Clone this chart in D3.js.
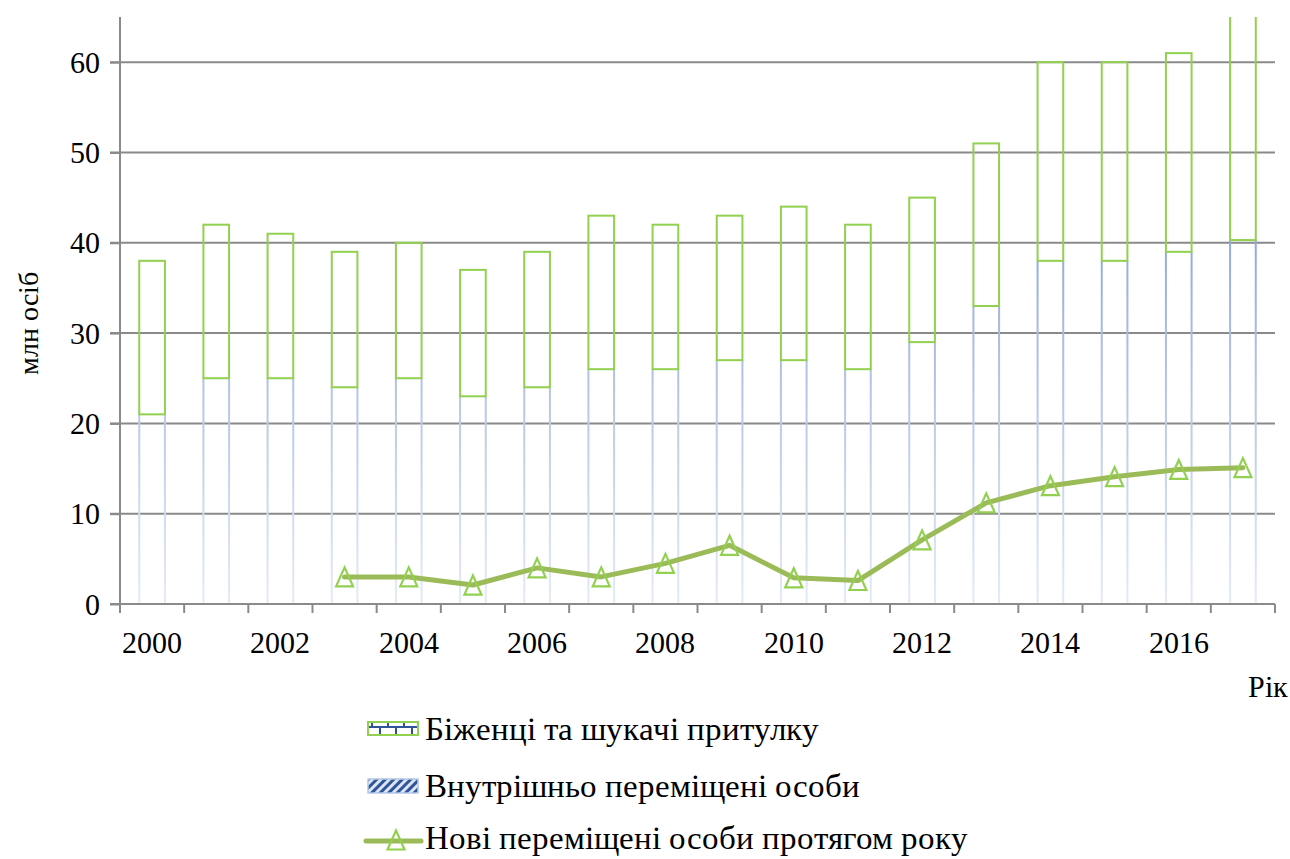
<!DOCTYPE html>
<html><head><meta charset="utf-8">
<script src="https://cdn.jsdelivr.net/npm/d3@7"></script>
<style>
  @font-face { font-family: 'ChartSerif'; src: local('Liberation Serif'), local('LiberationSerif'), local('LiberationSerif-Regular'), local('Times New Roman'); }
</style>
</head>
<body style="margin:0">
<script>
// Дані
const years = d3.range(2000, 2018);
const idp = [21, 25, 25, 24, 25, 23, 24, 26, 26, 27, 27, 26, 29, 33, 38, 38, 39, 40.3];
const total = [38, 42, 41, 39, 40, 37, 39, 43, 42, 43, 44, 42, 45, 51, 60, 60, 61, 68.5];
const newYears = d3.range(2003, 2018);
const newDisplaced = [3, 3, 2.1, 4, 3, 4.5, 6.5, 2.9, 2.6, 7.1, 11.2, 13.1, 14.1, 14.9, 15.1];
const yTicks = [0, 10, 20, 30, 40, 50, 60];
const xLabels = [2000, 2002, 2004, 2006, 2008, 2010, 2012, 2014, 2016];
const legendItems = ['Біженці та шукачі притулку', 'Внутрішньо переміщені особи', 'Нові переміщені особи протягом року'];

const width = 1290, height = 859;
const plotL = 120, plotR = 1275, plotT = 17, plotB = 604;
const fam = "ChartSerif, 'Liberation Serif', 'Times New Roman', serif";

const svg = d3.select('body').append('svg')
  .attr('width', width).attr('height', height)
  .style('font-family', fam);

const defs = svg.append('defs');
defs.append('clipPath').attr('id', 'plot')
  .append('rect').attr('x', plotL).attr('y', plotT).attr('width', plotR - plotL).attr('height', plotB - plotT);

const grad = defs.append('linearGradient').attr('id', 'fade')
  .attr('gradientUnits', 'userSpaceOnUse')
  .attr('x1', 0).attr('x2', 0).attr('y1', 230).attr('y2', plotB);
grad.append('stop').attr('offset', 0).attr('stop-color', '#8eaadb');
grad.append('stop').attr('offset', 1).attr('stop-color', '#e4ebf7');

const x = d3.scaleBand().domain(years).range([plotL, plotR]).padding(0);
const y = d3.scaleLinear().domain([0, 65]).range([plotB, plotT]);
const barW = x.bandwidth() * 0.4;
const bx = d => x(d) + (x.bandwidth() - barW) / 2;

// Сітка
svg.append('g').selectAll('line').data(yTicks.slice(1)).enter().append('line')
  .attr('x1', plotL - 10).attr('x2', plotR)
  .attr('y1', d => y(d)).attr('y2', d => y(d))
  .attr('stroke', '#8a8a8a').attr('stroke-width', 2);

const bars = svg.append('g').attr('clip-path', 'url(#plot)');

// Внутрішньо переміщені — лише бічні лінії
years.forEach((yr, i) => {
  [bx(yr), bx(yr) + barW].forEach(px => {
    bars.append('rect')
      .attr('x', px - 1).attr('width', 2)
      .attr('y', y(idp[i])).attr('height', y(0) - y(idp[i]))
      .attr('fill', 'url(#fade)');
  });
});

// Біженці — зелений контур
bars.selectAll('rect.ref').data(years).enter().append('rect')
  .attr('class', 'ref')
  .attr('x', d => bx(d))
  .attr('width', barW)
  .attr('y', (d, i) => y(total[i]))
  .attr('height', (d, i) => y(idp[i]) - y(total[i]))
  .attr('fill', 'none')
  .attr('stroke', '#92d050')
  .attr('stroke-width', 2);

// Вісь Y
svg.append('g')
  .attr('transform', `translate(${plotL},0)`)
  .call(d3.axisLeft(y).tickValues(yTicks).tickSize(10).tickPadding(10).tickFormat(d3.format('d')))
  .call(g => g.attr('font-family', null).attr('font-size', null))
  .call(g => g.select('.domain').attr('stroke', '#8a8a8a').attr('stroke-width', 2).attr('d', `M0,${plotT}V${plotB}`))
  .call(g => g.selectAll('.tick line').attr('stroke', '#8a8a8a').attr('stroke-width', 2))
  .call(g => g.selectAll('.tick text').style('font-family', fam).style('font-size', '30px')
    .attr('fill', '#000').attr('dy', '0.34em'));

// Вісь X
const xg = svg.append('g');
xg.append('line').attr('x1', plotL - 10).attr('x2', plotR).attr('y1', plotB).attr('y2', plotB)
  .attr('stroke', '#8a8a8a').attr('stroke-width', 2);
xg.selectAll('line.tick').data(years.concat([null])).enter().append('line')
  .attr('class', 'tick')
  .attr('x1', d => d === null ? plotR : x(d)).attr('x2', d => d === null ? plotR : x(d))
  .attr('y1', plotB).attr('y2', plotB + 9)
  .attr('stroke', '#8a8a8a').attr('stroke-width', 2);
xg.selectAll('text').data(xLabels).enter().append('text')
  .attr('x', d => x(d) + x.bandwidth() / 2)
  .attr('y', 653)
  .attr('text-anchor', 'middle')
  .style('font-family', fam).style('font-size', '30px')
  .text(d => d);

svg.append('text').attr('x', 1288).attr('y', 697).attr('text-anchor', 'end')
  .style('font-family', fam).style('font-size', '30px').text('Рік');

svg.append('text')
  .attr('transform', 'translate(38,323) rotate(-90)')
  .attr('text-anchor', 'middle')
  .style('font-family', fam).style('font-size', '28px')
  .text('млн осіб');

// Лінія нових переміщених
const cx = d => x(d) + x.bandwidth() / 2;
const line = d3.line().x(d => cx(d[0])).y(d => y(d[1]));
const pts = newYears.map((yr, i) => [yr, newDisplaced[i]]);
svg.append('path').datum(pts)
  .attr('d', line)
  .attr('fill', 'none')
  .attr('stroke', '#9bbb59')
  .attr('stroke-width', 5)
  .attr('stroke-linejoin', 'round')
  .attr('stroke-linecap', 'round');

const triPath = 'M0,-9.5L8.5,9.5L-8.5,9.5Z';
svg.append('g').selectAll('path').data(pts).enter().append('path')
  .attr('d', triPath)
  .attr('transform', d => `translate(${cx(d[0])},${y(d[1])})`)
  .attr('fill', 'none')
  .attr('stroke', '#92d050')
  .attr('stroke-width', 2.2);

// Легенда
const brick = defs.append('pattern').attr('id', 'brick')
  .attr('patternUnits', 'userSpaceOnUse').attr('width', 16).attr('height', 13)
  .attr('x', 368).attr('y', 722);
brick.append('rect').attr('width', 16).attr('height', 13).attr('fill', '#fff');
brick.append('line').attr('x1', 0).attr('x2', 16).attr('y1', 5).attr('y2', 5).attr('stroke', '#2f5597').attr('stroke-width', 2);
brick.append('line').attr('x1', 4).attr('x2', 4).attr('y1', 0).attr('y2', 5).attr('stroke', '#2f5597').attr('stroke-width', 2);
brick.append('line').attr('x1', 12).attr('x2', 12).attr('y1', 5).attr('y2', 13).attr('stroke', '#2f5597').attr('stroke-width', 2);

const stripes = defs.append('pattern').attr('id', 'stripes')
  .attr('patternUnits', 'userSpaceOnUse').attr('width', 6).attr('height', 6)
  .attr('patternTransform', 'rotate(45)');
stripes.append('rect').attr('width', 6).attr('height', 6).attr('fill', '#dbe5f5');
stripes.append('rect').attr('width', 3).attr('height', 6).attr('fill', '#2f5597');

const lg = svg.append('g');
lg.append('rect').attr('x', 368).attr('y', 722).attr('width', 50).attr('height', 13)
  .attr('fill', 'url(#brick)').attr('stroke', '#92d050').attr('stroke-width', 2);
lg.append('rect').attr('x', 368).attr('y', 779).attr('width', 50).attr('height', 14)
  .attr('fill', 'url(#stripes)').attr('stroke', '#b4c7e7').attr('stroke-width', 1.5);
lg.append('line').attr('x1', 366).attr('x2', 421).attr('y1', 841).attr('y2', 841)
  .attr('stroke', '#9bbb59').attr('stroke-width', 5).attr('stroke-linecap', 'round');
lg.append('path').attr('d', triPath)
  .attr('transform', 'translate(396,840)')
  .attr('fill', 'none').attr('stroke', '#92d050').attr('stroke-width', 2.2);

const rowsBase = [740, 797, 849];
lg.selectAll('text.leg').data(legendItems).enter().append('text')
  .attr('class', 'leg')
  .attr('x', 425)
  .attr('y', (d, i) => rowsBase[i])
  .style('font-family', fam).style('font-size', '33px')
  .text(d => d);
</script>
</body></html>
